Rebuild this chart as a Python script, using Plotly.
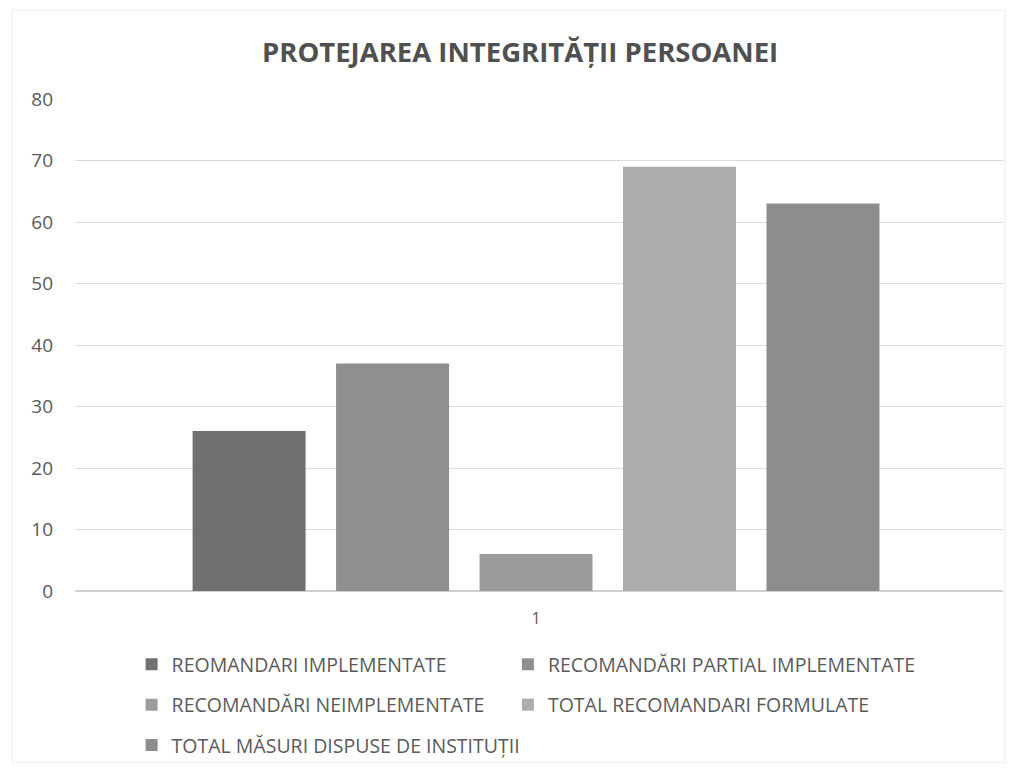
import plotly.graph_objects as go

categories = ["1"]
series_names = [
    "REOMANDARI IMPLEMENTATE",
    "RECOMANDĂRI PARTIAL IMPLEMENTATE",
    "RECOMANDĂRI NEIMPLEMENTATE",
    "TOTAL RECOMANDARI FORMULATE",
    "TOTAL MĂSURI DISPUSE DE INSTITUȚII",
]
series_values = [26, 37, 6, 69, 63]
colors = ["#707070", "#8f8f8f", "#9c9c9c", "#adadad", "#8d8d8d"]
legend_column = ["legend", "legend2", "legend", "legend2", "legend"]
y_ticks = [0, 10, 20, 30, 40, 50, 60, 70, 80]

fig = go.Figure()
for i, (name, val, col, lg) in enumerate(zip(series_names, series_values, colors, legend_column)):
    fig.add_trace(go.Bar(x=categories, y=[val], name=name, legend=lg, legendgroup="g%d" % i,
                         marker=dict(color=col, line=dict(width=0))))

leg_common = dict(orientation="v", yanchor="top", xanchor="left", tracegroupgap=12,
                  font=dict(size=19.5, color="#5a5a5a", family="Open Sans"),
                  itemwidth=30, bgcolor="rgba(0,0,0,0)")

fig.update_layout(
    width=1010, height=761,
    paper_bgcolor="white", plot_bgcolor="white",
    barmode="group", bargap=0.227, bargroupgap=0.2125,
    margin=dict(l=67, r=15, t=91, b=178, autoexpand=False),
    font=dict(family="Open Sans", color="#595959"),
    title=dict(text="<b>PROTEJAREA INTEGRITĂȚII PERSOANEI</b>", x=0.507, xanchor="center",
               y=0.942, yanchor="middle", font=dict(size=27.5, color="#505050")),
    xaxis=dict(showgrid=False, showline=False, tickfont=dict(size=16), ticks="",
               automargin=False, ticklabelstandoff=16, range=[-0.4968, 0.5032]),
    yaxis=dict(range=[0, 80], tickvals=y_ticks, gridcolor="#dcdcdc", gridwidth=1,
               zeroline=True, zerolinecolor="#d0d0d0", tickfont=dict(size=19),
               ticks="", automargin=False, ticklabelstandoff=21),
    legend=dict(x=0.061, y=-0.11, **leg_common),
    legend2=dict(x=0.4665, y=-0.11, **leg_common),
    shapes=[dict(type="rect", xref="paper", yref="paper", x0=-0.068, x1=1.002, y0=-0.348, y1=1.181,
                 line=dict(color="#ececec", width=1))],
)
fig.write_html("out.html")
